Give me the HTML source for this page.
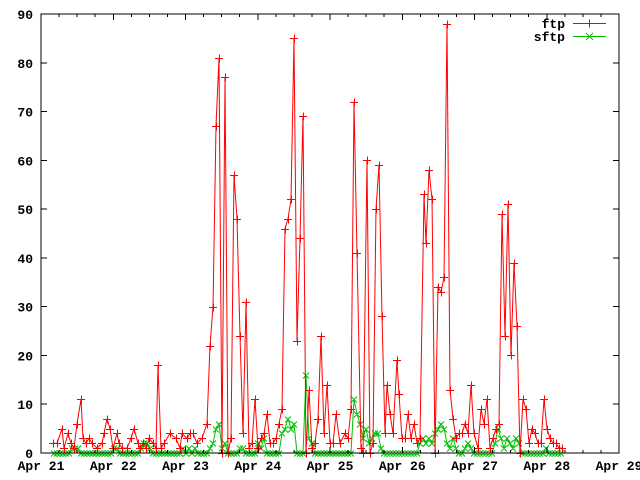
<!DOCTYPE html>
<html><head><style>
body{margin:0;background:#fff}
svg{display:block}
path,rect{shape-rendering:crispEdges}
text{font-family:"Liberation Mono",monospace;font-weight:bold;font-size:13px;fill:#000}
</style></head><body>
<svg id="s" width="640" height="480" xmlns="http://www.w3.org/2000/svg"></svg>
<script>
const s=document.getElementById('s');const NS='http://www.w3.org/2000/svg';
function el(t,a,txt){const e=document.createElementNS(NS,t);for(const k in a)e.setAttribute(k,a[k]);if(txt!=null)e.textContent=txt;s.appendChild(e);return e;}
const L=41,R=619,T=14,B=453;const Y=v=>B-v*(B-T)/90;
let d='';
for(let v=0;v<=90;v+=10){const y=Y(v);d+=`M${L} ${y}h6M${R} ${y}h-6`;el('text',{x:33,y:y+5,'text-anchor':'end'},String(v));}
const day=(R-L)/8;
for(let i=0;i<=32;i++){const x=L+i*day/4;const len=i%4==0?6:3;d+=`M${x} ${B}v-${len}M${x} ${T}v${len}`;}
for(let i=0;i<=8;i++){el('text',{x:L+i*day,y:470,'text-anchor':'middle'},'Apr '+(21+i));}
const ftp=[[53,2],[57,2],[62,5],[64,1],[68,4],[71,2],[74,1],[77,6],[81,11],[83,3],[86,2],[89,3],[92,2],[97,1],[102,2],[104,4],[107,7],[110,5],[113,1],[117,4],[119,2],[122,1],[127,1],[131,3],[134,5],[138,2],[140,1],[143,2],[146,1],[149,3],[153,2],[156,1],[158,18],[161,1],[164,2],[170,4],[176,3],[180,1],[182,4],[187,3],[190,4],[193,4],[197,2],[202,3],[207,6],[210,22],[213,30],[216,67],[219,81],[222,0],[225,77],[228,0],[231,3],[234,57],[237,48],[240,24],[243,4],[246,31],[249,1],[252,2],[255,11],[258,1],[261,3],[264,4],[267,8],[270,2],[273,2],[276,3],[279,6],[282,9],[285,46],[288,48],[291,52],[294,85],[297,23],[300,44],[303,69],[306,0],[309,13],[312,1],[315,2],[318,7],[321,24],[324,4],[327,14],[330,2],[333,2],[336,8],[340,2],[345,4],[348,3],[351,9],[354,72],[357,41],[361,1],[363,0],[367,60],[370,0],[373,2],[376,50],[379,59],[382,28],[385,4],[387,14],[390,8],[393,4],[397,19],[399,12],[402,3],[405,3],[408,8],[411,3],[414,6],[417,2],[420,3],[424,53],[426,43],[429,58],[432,52],[435,0],[438,34],[441,33],[444,36],[447,88],[450,13],[453,7],[456,3],[459,4],[462,4],[465,6],[468,4],[471,14],[474,4],[478,1],[481,9],[484,6],[487,11],[490,1],[493,3],[496,5],[499,6],[502,49],[505,24],[508,51],[511,20],[514,39],[517,26],[520,0],[523,11],[526,9],[529,2],[532,5],[535,4],[538,2],[541,2],[544,11],[547,5],[550,3],[553,2],[556,2],[559,1],[562,1]];
const gk={72:1,75:1,78:1,114:1,117:1,141:1,144:2,147:2,150:1,183:1,189:1,195:1,210:1,213:2,216:5,219:6,222:1,225:2,229:6,232:6,235:1,240:1,243:1,258:2,261:1,264:3,282:4,285:5,288:7,291:5,294:6,306:16,309:3,312:2,350:2,354:11,357:8,360:6,363:3,366:5,369:2,372:3,375:4,378:4,381:1,420:2,423:3,426:2,429:3,432:2,435:4,438:5,441:6,444:5,447:2,450:1,453:3,456:1,465:1,468:2,471:1,495:2,498:5,501:3,504:1,507:3,510:2,513:1,516:3,519:2,521:10,524:3,527:1,546:1};
const sftp=[];for(let x=54;x<=562;x+=3){sftp.push([x,gk[x]||0]);}
function series(pts,col,mk){el('path',{d:'M'+pts.map(p=>p[0]+' '+Y(p[1]).toFixed(1)).join('L'),stroke:col,fill:'none','stroke-width':1,style:'shape-rendering:auto'});
let m='';for(const [x,v] of pts){const y=Math.round(Y(v))+0.5;if(mk=='+')m+=`M${x-4} ${y}h8M${x+0.5} ${y-4}v8`;else m+=`M${x-3} ${y-3}l6 6M${x-3} ${y+3}l6 -6`;}
el('path',{d:m,stroke:col,fill:'none','stroke-width':1,style:mk=='+'?'':'shape-rendering:auto'});}
series(sftp,'#00c000','x');
series(ftp,'#ff0000','+');
el('path',{d:d,stroke:'#000',fill:'none','stroke-width':1});
el('rect',{x:L,y:T,width:R-L,height:B-T,fill:'none',stroke:'#000','stroke-width':1});
el('text',{x:565,y:28,'text-anchor':'end'},'ftp');
el('text',{x:565,y:41,'text-anchor':'end'},'sftp');
el('path',{d:'M573 23.5h33M589.5 19.5v8',stroke:'#ff0000',fill:'none'});
el('path',{d:'M573 36.5h33M586 33l7 7M586 40l7 -7',stroke:'#00c000',fill:'none',style:'shape-rendering:auto'});
</script>
</body></html>
